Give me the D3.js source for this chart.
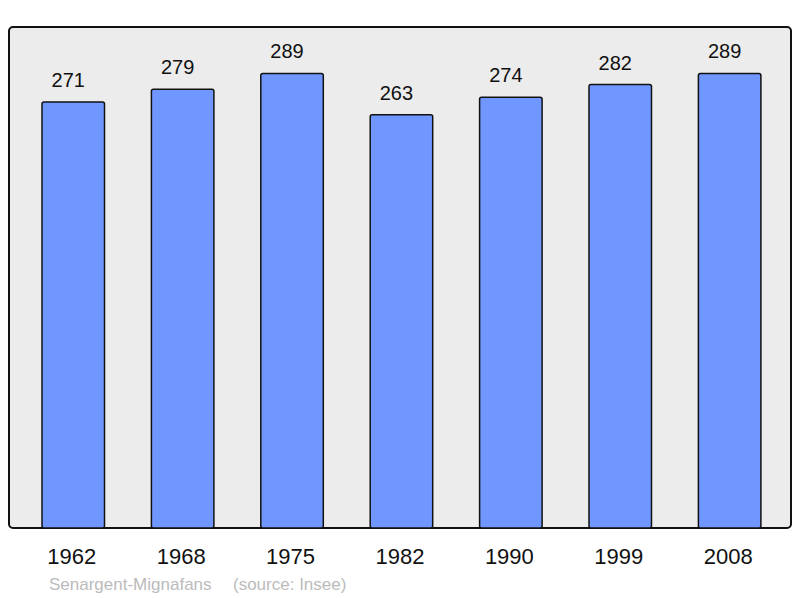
<!DOCTYPE html>
<html>
<head>
<meta charset="utf-8">
<script src="https://cdn.jsdelivr.net/npm/d3@7"></script>
<style>
  body { margin: 0; background: #fff; }
  text { font-family: "Liberation Sans", Arial, sans-serif; }
</style>
</head>
<body>
<svg id="chart" width="800" height="598"></svg>
<script>
let years = ['1962', '1968', '1975', '1982', '1990', '1999', '2008'];
let population = [271, 279, 289, 263, 274, 282, 289];
let commune = 'Senargent-Mignafans';
let source = '(source: Insee)';

let svg = d3.select('#chart');
let frame = {left: 9, top: 27, right: 791, bottom: 528};

svg.append('rect')
  .attr('x', frame.left)
  .attr('y', frame.top)
  .attr('width', frame.right - frame.left)
  .attr('height', frame.bottom - frame.top)
  .attr('rx', 4)
  .attr('fill', '#ececec')
  .attr('stroke', '#111')
  .attr('stroke-width', 2);

let x = d3.scaleBand()
  .domain(years)
  .range([-4.9, 807.8])
  .paddingInner(0.4287)
  .paddingOuter(0.4287);

let y = d3.scaleLinear()
  .domain([0, 319])
  .range([531, 26]);

let data = years.map((yr, i) => ({year: yr, value: population[i]}));

svg.selectAll('rect.bar')
  .data(data)
  .join('rect')
  .attr('class', 'bar')
  .attr('x', d => x(d.year))
  .attr('y', d => y(d.value))
  .attr('width', x.bandwidth())
  .attr('height', d => frame.bottom - y(d.value))
  .attr('rx', 2)
  .attr('fill', '#7096ff')
  .attr('stroke', '#111')
  .attr('stroke-width', 1.5);

// value labels sit a little left of the bar centre, as in the original
svg.selectAll('text.value')
  .data(data)
  .join('text')
  .attr('class', 'value')
  .attr('x', d => x(d.year) + x.bandwidth() / 2 - 5)
  .attr('y', d => y(d.value) - 15)
  .attr('text-anchor', 'middle')
  .attr('font-size', 20)
  .attr('fill', '#111')
  .text(d => d.value);

// year labels under the frame
let axis = d3.axisBottom(x).tickSize(0).tickPadding(0);
let axisG = svg.append('g')
  .attr('transform', 'translate(-1.5,' + 549 + ')')
  .call(axis);
axisG.select('.domain').remove();
axisG.selectAll('text')
  .attr('font-size', 22)
  .attr('font-family', '"Liberation Sans", Arial, sans-serif')
  .attr('fill', '#111')
  .attr('dy', 0)
  .attr('y', 15);

svg.append('text')
  .attr('x', 49)
  .attr('y', 590)
  .attr('font-size', 17)
  .attr('fill', '#bbb')
  .text(commune);

svg.append('text')
  .attr('x', 233)
  .attr('y', 590)
  .attr('font-size', 17)
  .attr('fill', '#bbb')
  .text(source);
</script>
</body>
</html>
